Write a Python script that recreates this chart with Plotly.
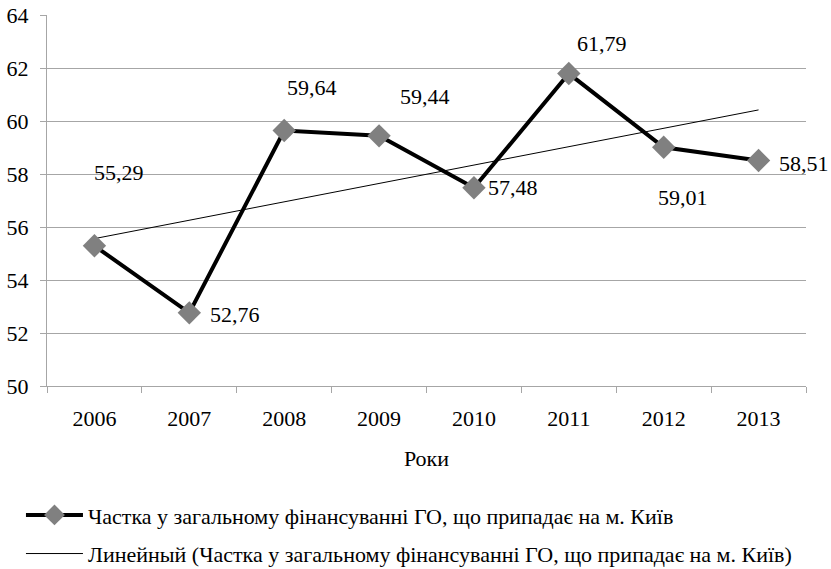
import numpy as np
import plotly.graph_objects as go

years = ["2006", "2007", "2008", "2009", "2010", "2011", "2012", "2013"]
share = [55.29, 52.76, 59.64, 59.44, 57.48, 61.79, 59.01, 58.51]
y_ticks = [50, 52, 54, 56, 58, 60, 62, 64]

series_name = "Частка у загальному фінансуванні ГО, що припадає на м. Київ"
trend_name = "Линейный (Частка у загальному фінансуванні ГО, що припадає на м. Київ)"
x_title = "Роки"

# label offsets (px) relative to each point
label_dx = [25, 46, 28, 46, 39, 33, 19, 45]
label_dy = [73, -2, 43, 39, 0, 30, -50, -3]

FONT = "Liberation Serif"
FS = 22
GRID = "#a6a6a6"

idx = np.arange(len(share))
slope, intercept = np.polyfit(idx, share, 1)
trend = slope * idx + intercept

fig = go.Figure()
fig.add_trace(go.Scatter(
    x=idx, y=trend, mode="lines", name=trend_name,
    line=dict(color="black", width=1), legendrank=2, legendgroup="b",
))
fig.add_trace(go.Scatter(
    x=idx, y=share, mode="lines+markers", name=series_name,
    line=dict(color="black", width=4),
    marker=dict(symbol="diamond", size=18, color="#808080", line=dict(width=0)),
    legendrank=1, legendgroup="a",
))

for i, (v, dx, dy) in enumerate(zip(share, label_dx, label_dy)):
    fig.add_annotation(
        x=i, y=v, xref="x", yref="y", text=f"{v:.2f}".replace(".", ","),
        showarrow=False, xshift=dx, yshift=dy,
        font=dict(family=FONT, size=FS, color="black"),
    )

fig.update_layout(
    width=831, height=569,
    margin=dict(l=47, r=25, t=15, b=183, autoexpand=False),
    paper_bgcolor="white", plot_bgcolor="white",
    font=dict(family=FONT, size=FS, color="black"),
    showlegend=True,
    legend=dict(
        orientation="v", x=-0.0343, xanchor="left", y=-0.2915, yanchor="top",
        font=dict(family=FONT, size=FS, color="black"),
        itemwidth=57, tracegroupgap=7, bgcolor="rgba(0,0,0,0)",
    ),
    xaxis=dict(
        tickmode="array", tickvals=idx, ticktext=years,
        range=[-0.5, 7.5], showgrid=False, automargin=False, zeroline=False,
        showline=True, linecolor=GRID, linewidth=1,
        ticks="", ticklabelstandoff=13,
        minor=dict(tickmode="array", tickvals=np.arange(-0.5, 8.0, 1.0),
                   ticks="outside", ticklen=6, tickcolor=GRID, showgrid=False),
        title=dict(text=x_title, font=dict(family=FONT, size=FS), standoff=20),
    ),
    yaxis=dict(
        range=[50, 64], tickvals=y_ticks, showgrid=True, gridcolor=GRID, gridwidth=1,
        automargin=False, ticklabeloverflow="allow",
        showline=True, linecolor=GRID, linewidth=1, zeroline=False,
        ticks="outside", ticklen=6, tickcolor=GRID, ticklabelstandoff=7,
    ),
)

# remove the page's default body margin / scrollbars so the figure fills the window
page_fix = "document.body.style.margin='0';document.body.style.overflow='hidden';"

fig.write_html("out.html", post_script=page_fix, config={"displayModeBar": False})
